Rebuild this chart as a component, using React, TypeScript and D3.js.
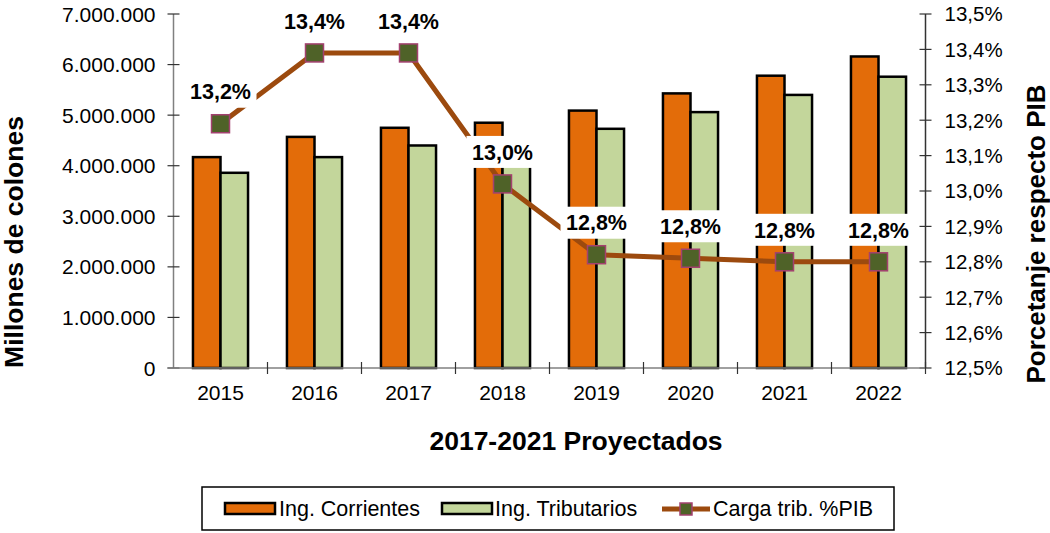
import React from 'react';
import * as d3 from 'd3';

// values
const years = ['2015', '2016', '2017', '2018', '2019', '2020', '2021', '2022'];
const ingCorrientes = [4170000, 4570000, 4750000, 4850000, 5090000, 5430000, 5780000, 6160000];
const ingTributarios = [3860000, 4170000, 4400000, 4100000, 4730000, 5060000, 5400000, 5760000];
const cargaTrib = [13.19, 13.39, 13.39, 13.02, 12.82, 12.81, 12.8, 12.8];
const leftTicks = [0, 1000000, 2000000, 3000000, 4000000, 5000000, 6000000, 7000000];
const rightTicks = [12.5, 12.6, 12.7, 12.8, 12.9, 13.0, 13.1, 13.2, 13.3, 13.4, 13.5];

const W = 1050;
const H = 533;
const margin = { top: 14, right: 124.5, bottom: 165, left: 173.5 };
const FONT = '"Liberation Sans", Arial, sans-serif';

const ORANGE = '#E36C09';
const GREEN = '#C3D69B';
const LINE = '#9C4A0E';
const MARK_FILL = '#4F6228';
const MARK_STROKE = '#A3416F';

const locale = d3.formatLocale({ decimal: ',', thousands: '.', grouping: [3], currency: ['', ''] });
const fmtMillones = locale.format(',.0f');
const fmtPct = (v: number) => locale.format('.1f')(v) + '%';

const App = () => {
  const L = margin.left;
  const R = W - margin.right;
  const T = margin.top;
  const B = H - margin.bottom;

  const x = d3.scaleBand<string>().domain(years).range([L, R]).padding(0);
  const bw = x.bandwidth();
  const xs = d3.scaleBand<string>().domain(['corr', 'trib']).range([bw * 0.207, bw * 0.793]).padding(0);
  const yL = d3.scaleLinear().domain([0, 7000000]).range([B, T]);
  const yR = d3.scaleLinear().domain([12.5, 13.5]).range([B, T]);

  const cx = (i: number) => (x(years[i]) as number) + bw / 2;

  const line = d3.line<number>()
    .x((_, i) => cx(i))
    .y(d => yR(d));

  const bars = [
    { key: 'corr', values: ingCorrientes, color: ORANGE },
    { key: 'trib', values: ingTributarios, color: GREEN },
  ];

  return (
    <div>
      <svg width={W} height={H} style={{ position: 'absolute', left: 0, top: 0, background: '#fff' }} fontFamily={FONT}>
        {/* bars */}
        {bars.map(s => (
          <g key={s.key} fill={s.color} stroke="#000" strokeWidth={2.5}>
            {s.values.map((v, i) => (
              <rect
                key={i}
                x={(x(years[i]) as number) + (xs(s.key) as number)}
                y={yL(v)}
                width={xs.bandwidth()}
                height={B - yL(v)}
              />
            ))}
          </g>
        ))}

        {/* left axis */}
        <line x1={L} x2={L} y1={T} y2={B} stroke="#808080" strokeWidth={1.5} />
        {leftTicks.map(t => (
          <g key={t}>
            <line x1={L - 6} x2={L + 6} y1={yL(t)} y2={yL(t)} stroke="#333" strokeWidth={1.2} />
            <text x={L - 18} y={yL(t)} dy="0.36em" textAnchor="end" fontSize={21} fill="#000">
              {fmtMillones(t)}
            </text>
          </g>
        ))}

        {/* right axis */}
        <line x1={R} x2={R} y1={T} y2={B} stroke="#333" strokeWidth={1.5} />
        {rightTicks.map(t => (
          <g key={t}>
            <line x1={R - 6} x2={R + 6} y1={yR(t)} y2={yR(t)} stroke="#333" strokeWidth={1.2} />
            <text x={R + 19} y={yR(t)} dy="0.36em" fontSize={20.5} fill="#000">
              {fmtPct(t)}
            </text>
          </g>
        ))}

        {/* x axis */}
        <line x1={L - 6} x2={R} y1={B} y2={B} stroke="#808080" strokeWidth={1.5} />
        {years.map((yr, i) => (
          <g key={yr}>
            <line x1={(x(yr) as number) + bw} x2={(x(yr) as number) + bw} y1={B - 6} y2={B + 6} stroke="#333" strokeWidth={1.2} />
            <text x={cx(i)} y={400} textAnchor="middle" fontSize={21} fill="#000">{yr}</text>
          </g>
        ))}

        {/* line series */}
        <path d={line(cargaTrib) || ''} fill="none" stroke={LINE} strokeWidth={5} strokeLinejoin="round" />
        {cargaTrib.map((v, i) => (
          <rect key={i} x={cx(i) - 9} y={yR(v) - 9} width={18} height={18} fill={MARK_FILL} stroke={MARK_STROKE} strokeWidth={1.5} />
        ))}

        {/* data labels */}
        {cargaTrib.map((v, i) => (
          <g key={i} transform={`translate(${cx(i)},${yR(v) - 32})`}>
            <rect x={-36} y={-16} width={72} height={32} fill="#fff" />
            <text textAnchor="middle" dy="0.36em" fontSize={21.5} fontWeight="bold" fill="#000">{fmtPct(v)}</text>
          </g>
        ))}

        {/* axis titles */}
        <text transform="translate(23,242) rotate(-90)" textAnchor="middle" fontSize={26.5} fontWeight="bold">
          Millones de colones
        </text>
        <text transform="translate(1045,234) rotate(-90)" textAnchor="middle" fontSize={26} fontWeight="bold">
          Porcetanje respecto PIB
        </text>
        <text x={576} y={450} textAnchor="middle" fontSize={26.5} fontWeight="bold">
          2017-2021 Proyectados
        </text>

        {/* legend */}
        <rect x={202} y={487} width={692} height={43} fill="#fff" stroke="#000" strokeWidth={1.5} />
        <rect x={225} y={503} width={50} height={11} fill={ORANGE} stroke="#000" strokeWidth={2.5} />
        <text x={279} y={516} fontSize={21.5}>Ing. Corrientes</text>
        <rect x={442} y={503} width={50} height={11} fill={GREEN} stroke="#000" strokeWidth={2.5} />
        <text x={495} y={516} fontSize={21.5}>Ing. Tributarios</text>
        <line x1={662} x2={710} y1={509} y2={509} stroke={LINE} strokeWidth={5} />
        <rect x={680} y={503} width={12} height={12} fill={MARK_FILL} stroke={MARK_STROKE} strokeWidth={1.5} />
        <text x={713} y={516} fontSize={21.5}>Carga trib. %PIB</text>
      </svg>
    </div>
  );
};

export default App;
